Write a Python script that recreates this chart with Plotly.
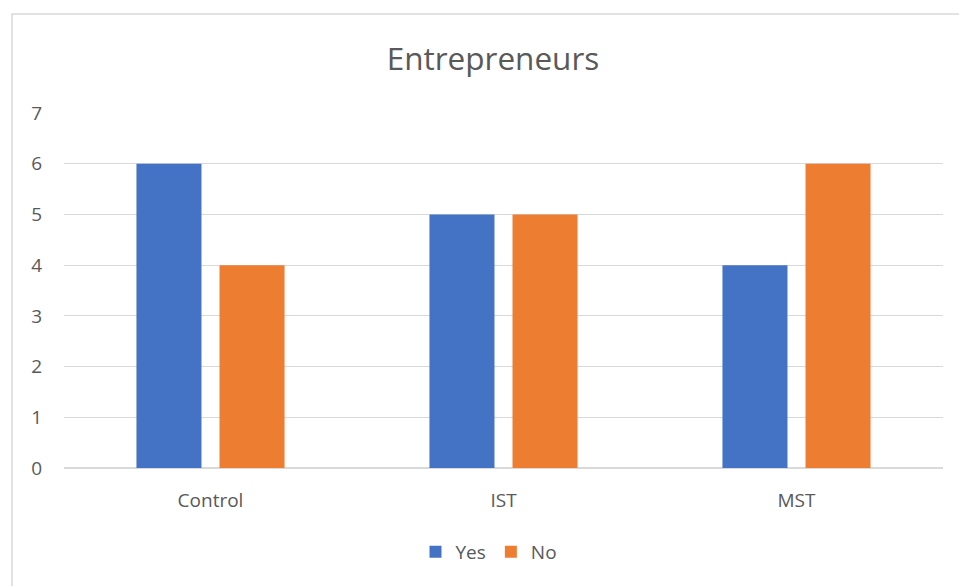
import plotly.graph_objects as go

categories = ["Control", "IST", "MST"]
yes_values = [6, 5, 4]
no_values = [4, 5, 6]
y_ticks = [0, 1, 2, 3, 4, 5, 6, 7]

W, H = 959, 586
L, R, T, B = 64, 16, 113, 118
pw = W - L - R
ph = H - T - B

fig = go.Figure()
fig.add_trace(go.Bar(name="Yes", x=categories, y=yes_values, marker=dict(color="#4472C4", line=dict(width=0))))
fig.add_trace(go.Bar(name="No", x=categories, y=no_values, marker=dict(color="#ED7D31", line=dict(width=0))))

font = "Open Sans, Liberation Sans, sans-serif"
fig.update_layout(
    width=W, height=H,
    margin=dict(l=L, r=R, t=T, b=B),
    paper_bgcolor="white", plot_bgcolor="white",
    barmode="group", bargap=0.433, bargroupgap=0.217,
    title=dict(text="Entrepreneurs", x=493 / W, xref="container", xanchor="center",
               y=1 - 59 / H, yanchor="middle", yref="container",
               font=dict(family=font, size=31.5, color="#595959")),
    font=dict(family=font, size=19, color="#595959"),
    showlegend=True,
    legend=dict(orientation="h", x=(489 - L) / pw, xanchor="center", xref="paper",
                y=-(552 - (T + ph)) / ph, yanchor="middle",
                font=dict(family=font, size=19, color="#595959"),
                itemwidth=30, tracegroupgap=0),
    xaxis=dict(showgrid=False, showline=False, ticks="", ticklabelstandoff=19,
               tickfont=dict(family=font, size=19, color="#595959")),
    yaxis=dict(range=[0, 7], tickvals=y_ticks, showgrid=True, gridcolor="#D9D9D9",
               gridwidth=1.3, zeroline=True, zerolinecolor="#D9D9D9", zerolinewidth=1.5,
               showline=False, ticks="", ticklabelstandoff=21,
               tickfont=dict(family=font, size=19, color="#595959")),
    shapes=[dict(type="rect", xref="paper", yref="paper",
                 x0=(12 - L) / pw, x1=(W + 5 - L) / pw,
                 y0=-(H + 5 - (T + ph)) / ph, y1=1 + (T - 14) / ph,
                 line=dict(color="#D9D9D9", width=1.5), fillcolor="rgba(0,0,0,0)", layer="below")],
)

fig.write_html("out.html")
